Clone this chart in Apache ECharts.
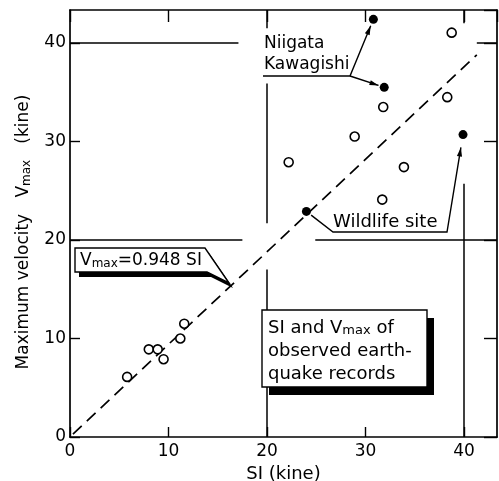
<!DOCTYPE html>
<html><head><meta charset="utf-8">
<script src="https://cdn.jsdelivr.net/npm/echarts@6/dist/echarts.min.js"></script>
<style>html,body{margin:0;padding:0;background:#fff}#c{width:499px;height:481px}</style>
</head><body><div id="c"></div>
<script>
// ---- data ----
const axisTicks = [0, 10, 20, 30, 40];
const openSI   = [5.8, 8.0, 8.9, 9.5, 11.2, 11.6, 38.75, 38.3, 31.8, 28.9, 22.2, 33.9, 31.7];
const openVmax = [6.1, 8.9, 8.9, 7.9, 10.0, 11.5, 41.05, 34.5, 33.5, 30.5, 27.9, 27.4, 24.1];
const filledSI   = [30.8, 31.9, 39.9, 24.0];   // Niigata, Kawagishi, right point, Wildlife site
const filledVmax = [42.4, 35.5, 30.7, 22.9];
const fitSI   = [0.3, 41.3];
const fitVmax = [0.3, 38.8];
// broken reference lines of the graph paper (data coords)
const hLines = [[40, 0, 17.1], [40, 41.3, 43.35], [20, 0, 17.5], [20, 24.9, 43.35]];
const vLines = [[20, 0, 17.0], [20, 21.7, 35.9], [20, 41.5, 43.35], [40, 0, 25.7], [40, 42.0, 43.35]];

const FONT = 'DejaVu Sans';
const AMAX = 43.35;
const chart = echarts.init(document.getElementById('c'), null, {renderer: 'canvas'});

function axisBase(pos, showLabel, tickLen) {
  return {
    type: 'value', min: 0, max: AMAX, interval: 10, position: pos,
    axisLine: {show: true, onZero: false, lineStyle: {color: '#000', width: 1.7}},
    axisTick: {show: true, inside: true, length: tickLen, lineStyle: {color: '#000', width: 1.4}},
    axisLabel: {show: showLabel, showMaxLabel: false, color: '#000', fontFamily: FONT, fontSize: 17},
    splitLine: {show: false}
  };
}
const xb = axisBase('bottom', true, 10); xb.axisLabel.margin = 6;
xb.name = 'SI (kine)'; xb.nameLocation = 'middle'; xb.nameGap = 28;
xb.nameTextStyle = {color: '#000', fontFamily: FONT, fontSize: 18};
const xt = axisBase('top', false, 12);
const yl = axisBase('left', true, 10); yl.axisLabel.margin = 4;
const yr = axisBase('right', false, 13);

const mlData = [];
hLines.forEach(h => mlData.push([{coord: [h[1], h[0]]}, {coord: [h[2], h[0]]}]));
vLines.forEach(v => mlData.push([{coord: [v[0], v[1]]}, {coord: [v[0], v[2]]}]));

chart.setOption({
  animation: false,
  backgroundColor: '#fff',
  grid: {left: 70, right: 2, top: 10, bottom: 44, containLabel: false, outerBoundsMode: 'none'},
  xAxis: [xb, xt],
  yAxis: [yl, yr],
  series: [
    {type: 'line', data: fitSI.map((x, i) => [x, fitVmax[i]]), showSymbol: false, symbol: 'none',
     lineStyle: {color: '#000', width: 1.7, type: [12, 7]}, z: 2,
     markLine: {silent: true, symbol: ['none', 'none'], label: {show: false},
       lineStyle: {color: '#000', width: 1.5, type: 'solid'}, data: mlData}},
    {type: 'scatter', data: openSI.map((x, i) => [x, openVmax[i]]), symbol: 'circle', symbolSize: 9,
     itemStyle: {color: '#fff', borderColor: '#000', borderWidth: 1.6, opacity: 1}, z: 5},
    {type: 'scatter', data: filledSI.map((x, i) => [x, filledVmax[i]]), symbol: 'circle', symbolSize: 9,
     itemStyle: {color: '#000', opacity: 1}, z: 5}
  ]
});

// ---- annotations ----
function px(x, y) { return chart.convertToPixel({xAxisIndex: 0, yAxisIndex: 0}, [x, y]); }
function toward(p, q, d) { const dx = q[0]-p[0], dy = q[1]-p[1], l = Math.hypot(dx, dy); return [p[0]+dx/l*d, p[1]+dy/l*d]; }
function arrowHead(from, tip) {
  const dx = tip[0]-from[0], dy = tip[1]-from[1], l = Math.hypot(dx, dy), ux = dx/l, uy = dy/l;
  const L = 9, W = 2.6;
  return {type: 'polygon', z: 20, shape: {points: [tip,
    [tip[0]-ux*L - uy*W, tip[1]-uy*L + ux*W],
    [tip[0]-ux*L + uy*W, tip[1]-uy*L - ux*W]]}, style: {fill: '#000'}};
}
function pline(points) { return {type: 'polyline', z: 20, shape: {points}, style: {stroke: '#000', lineWidth: 1.4, fill: null}}; }

const P = filledSI.map((x, i) => px(x, filledVmax[i]));
const J = [350, 76];
const tipN = toward(P[0], J, 7), tipK = toward(P[1], J, 6);
const W1 = [333, 232], W2 = [447, 232];
const startW = toward(P[3], W1, 6);
const tipR = toward(P[2], W2, 13);

const g = [];
// Niigata / Kawagishi
g.push({type: 'text', z: 20, style: {text: 'Niigata\nKawagishi', x: 264, y: 33, fontFamily: FONT, fontSize: 17, lineHeight: 21, fill: '#000', align: 'left', verticalAlign: 'top'}});
g.push(pline([[263, 76], J, tipN])); g.push(arrowHead(J, tipN));
g.push(pline([J, tipK])); g.push(arrowHead(J, tipK));
// Wildlife site
g.push({type: 'text', z: 20, style: {text: 'Wildlife site', x: 333, y: 222, fontFamily: FONT, fontSize: 18, fill: '#000', align: 'left', verticalAlign: 'middle'}});
g.push(pline([startW, W1, W2, tipR])); g.push(arrowHead(W2, tipR));
// Vmax = 0.948 SI callout
const call = [[75, 248], [205, 248], [229, 283], [207, 272], [75, 272]];
g.push({type: 'polygon', z: 18, shape: {points: call.map(p => [p[0]+4, p[1]+5])}, style: {fill: '#000'}});
g.push({type: 'polygon', z: 19, shape: {points: call}, style: {fill: '#fff', stroke: '#000', lineWidth: 1.4}});
g.push({type: 'text', z: 21, style: {text: '{a|V}{b|max}{a|=0.948 SI}', x: 80, y: 261, align: 'left', verticalAlign: 'middle', fill: '#000',
  rich: {a: {fontFamily: FONT, fontSize: 17, fill: '#000', verticalAlign: 'bottom'}, b: {fontFamily: FONT, fontSize: 12, fill: '#000', verticalAlign: 'bottom'}}}});
// SI and Vmax box
g.push({type: 'rect', z: 18, shape: {x: 269, y: 318, width: 165, height: 77}, style: {fill: '#000'}});
g.push({type: 'rect', z: 19, shape: {x: 262, y: 310, width: 165, height: 77}, style: {fill: '#fff', stroke: '#000', lineWidth: 1.4}});
g.push({type: 'text', z: 21, style: {text: '{a|SI and V}{b|max}{a| of}\n{a|observed earth-}\n{a|quake records}', x: 268, y: 314, align: 'left', verticalAlign: 'top', fill: '#000',
  rich: {a: {fontFamily: FONT, fontSize: 18, fill: '#000', lineHeight: 23, verticalAlign: 'bottom'}, b: {fontFamily: FONT, fontSize: 13, fill: '#000', lineHeight: 23, verticalAlign: 'bottom'}}}});
// Y axis title
g.push({type: 'text', z: 21, x: 24, y: 232, rotation: Math.PI / 2, style: {text: '{a|Maximum velocity   V}{b|max}{a|   (kine)}', x: 0, y: 0, align: 'center', verticalAlign: 'middle', fill: '#000',
  rich: {a: {fontFamily: FONT, fontSize: 17, fill: '#000', verticalAlign: 'bottom'}, b: {fontFamily: FONT, fontSize: 12, fill: '#000', verticalAlign: 'bottom'}}}});

chart.setOption({graphic: {elements: g}});
</script></body></html>
